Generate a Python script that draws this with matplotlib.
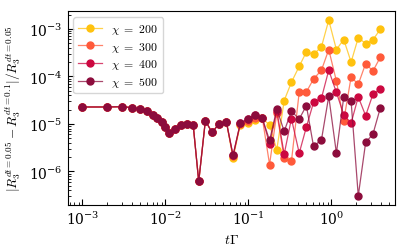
import matplotlib
matplotlib.use("Agg")
import matplotlib.pyplot as plt
from matplotlib.colors import to_rgba

plt.rcParams['mathtext.fontset'] = 'cm'
plt.rcParams['font.family'] = ['DejaVu Serif']
plt.rcParams['font.size'] = 10
plt.rcParams['axes.formatter.use_mathtext'] = True

t = [0.001, 0.002, 0.003, 0.004, 0.005, 0.006, 0.007, 0.008, 0.009, 0.010,
     0.011, 0.0132, 0.0153, 0.0182, 0.0216, 0.0252, 0.0303, 0.0365, 0.0443, 0.0543,
     0.0653, 0.080, 0.098, 0.119, 0.1475,
     0.18, 0.22, 0.27, 0.33, 0.41, 0.50, 0.61, 0.76, 0.93, 1.15, 1.41, 1.73, 2.11,
     2.59, 3.17, 3.89]

early = [2.27e-5, 2.27e-5, 2.3e-5, 2.2e-5, 2.05e-5, 1.85e-5, 1.57e-5, 1.32e-5, 1.08e-5, 8.6e-6,
         6.4e-6, 7.7e-6, 9.6e-6, 9.9e-6, 9.6e-6, 6.15e-7, 1.17e-5, 6.6e-6, 1.01e-5, 1.1e-5]

chi200 = early + [1.9e-6, 9.7e-6, 1.05e-5, 1.18e-5, 1.3e-5,
                  9.5e-6, 2.86e-6, 3.1e-5, 7.5e-5, 1.63e-4, 3.27e-4, 2.9e-4, 4.2e-4, 1.52e-3,
                  3.66e-4, 5.96e-4, 2.0e-4, 6.5e-4, 4.9e-4, 5.86e-4, 9.8e-4]
chi300 = early + [2.1e-6, 1.02e-5, 1.15e-5, 1.3e-5, 1.3e-5,
                  1.4e-6, 1.7e-5, 1.9e-6, 1.62e-6, 4.7e-5, 4.7e-5, 8.8e-5, 1.35e-4, 3.66e-4,
                  8.0e-5, 1.17e-5, 9.7e-5, 6.8e-5, 1.86e-4, 1.29e-4, 2.53e-4]
chi400 = early + [2.17e-6, 1.04e-5, 1.25e-5, 1.55e-5, 1.3e-5,
                  3.8e-6, 1.9e-5, 2.3e-6, 1.29e-5, 2.43e-6, 8.6e-6, 2.84e-5, 3.5e-5, 1.35e-4,
                  4.6e-5, 1.56e-5, 1.04e-5, 3.7e-5, 1.49e-5, 4.2e-5, 5.43e-5]
chi500 = early + [2.17e-6, 1.04e-5, 1.25e-5, 1.55e-5, 1.3e-5,
                  4.5e-6, 2.05e-5, 7.0e-6, 1.84e-5, 1.27e-5, 2.42e-5, 3.36e-6, 4.65e-6, 3.8e-5,
                  2.43e-6, 3.68e-5, 3.0e-5, 3.06e-7, 4.07e-6, 6.1e-6, 2.16e-5]

labels = [r'$\chi\ =\ 200$', r'$\chi\ =\ 300$', r'$\chi\ =\ 400$', r'$\chi\ =\ 500$']
colors = ['#FFC20E', '#FF5A3A', '#CC0840', '#8C0C3C']
series = [chi200, chi300, chi400, chi500]

fig = plt.figure(figsize=(4.07, 2.53), dpi=100)
ax = fig.add_axes([0.166, 0.187, 0.805, 0.764])

for y, c, lab in zip(series, colors, labels):
    ax.plot(t, y, '-o', color=to_rgba(c, 0.75), lw=0.9, ms=5,
            mfc=c, mec=c, label=lab)

ax.set_xscale('log')
ax.set_yscale('log')
ax.tick_params(which='both', direction='in', top=False, right=False, labelsize=10)
ax.tick_params(which='major', length=4, width=0.8)
ax.tick_params(which='minor', length=2, width=0.6)
ax.set_xlabel(r'$t\Gamma$', fontsize=10)
ax.set_ylabel(r'$|R_3^{dt=0.05} - R_3^{dt=0.1}|/R_3^{dt=0.05}$', fontsize=9.5)
ax.legend(loc='upper left', fontsize=8.5, frameon=True, labelspacing=0.3,
          borderpad=0.4, handlelength=2.0, handletextpad=0.8)

fig.savefig('out.png', dpi=100)
